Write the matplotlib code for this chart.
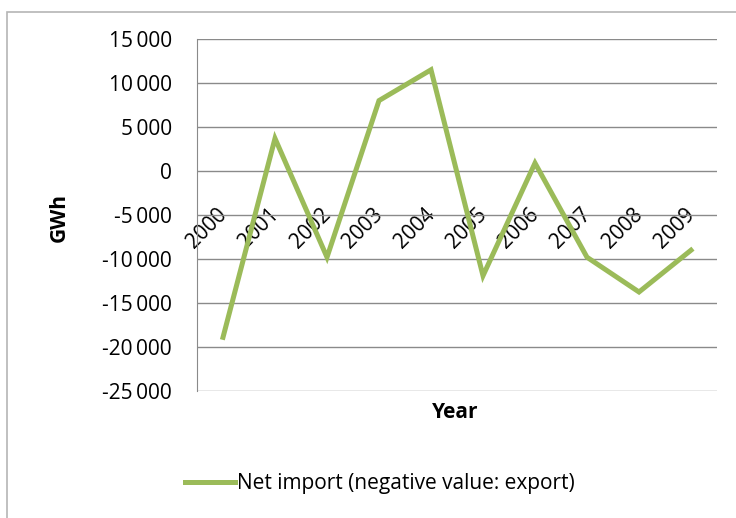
import matplotlib.pyplot as plt
from matplotlib.patches import Rectangle
from matplotlib.ticker import FuncFormatter
from matplotlib.transforms import ScaledTranslation

years = ["2000", "2001", "2002", "2003", "2004", "2005", "2006", "2007", "2008", "2009"]
net_import = [-18900, 3700, -9800, 8000, 11500, -11900, 900, -9800, -13750, -9000]
y_ticks = [-25000, -20000, -15000, -10000, -5000, 0, 5000, 10000, 15000]

GREEN = "#9BBB59"
GRID = "#8a8a8a"
FONT = "Open Sans"
FS = 15

plt.rcParams["font.family"] = [FONT, "DejaVu Sans"]

fig = plt.figure(figsize=(7.36, 5.18), dpi=100)
fig.patches.append(Rectangle((7 / 736, -0.1), 1.2, 1 - 12 / 518 + 0.1,
                             transform=fig.transFigure, fill=False,
                             edgecolor="#b5b5b5", linewidth=1.2))

ax = fig.add_axes([197 / 736, 1 - 391 / 518, 520 / 736, 352 / 518])

x = list(range(len(years)))
line, = ax.plot(x, net_import, color=GREEN, linewidth=3.6,
                solid_joinstyle="miter", label="Net import (negative value: export)")

ax.set_xlim(-0.5, len(years) - 0.5)
ax.set_ylim(min(y_ticks), max(y_ticks))
ax.set_yticks(y_ticks)
ax.yaxis.set_major_formatter(FuncFormatter(lambda v, p: f"{v:,.0f}".replace(",", "\u2009")))
ax.grid(axis="y", color=GRID, linewidth=1.0)
ax.set_axisbelow(True)

for s in ["top", "right"]:
    ax.spines[s].set_visible(False)
ax.spines["left"].set_color(GRID)
ax.spines["bottom"].set_position(("data", 0))
ax.spines["bottom"].set_visible(False)

ax.set_xticks(x)
ax.set_xticklabels(years, rotation=45, ha="right", va="top", rotation_mode="anchor")
ax.tick_params(axis="x", length=0, pad=24, labelsize=FS)
ax.tick_params(axis="y", length=0, pad=18, labelsize=FS)
shift = ScaledTranslation(-0.07, 0, fig.dpi_scale_trans)
for lab in ax.get_xticklabels():
    lab.set_transform(lab.get_transform() + shift)

fig.text(59 / 736, 1 - 218 / 518, "GWh", rotation=90, ha="center", va="center",
         fontsize=FS, fontweight="bold")
fig.text(455 / 736, 1 - 412 / 518, "Year", ha="center", va="center",
         fontsize=FS, fontweight="bold")

fig.legend(handles=[line], loc="center", bbox_to_anchor=(380 / 736, 1 - 484 / 518),
           frameon=False, fontsize=FS, handlelength=2.4, handletextpad=0.1)

fig.savefig("out.png", dpi=100)
